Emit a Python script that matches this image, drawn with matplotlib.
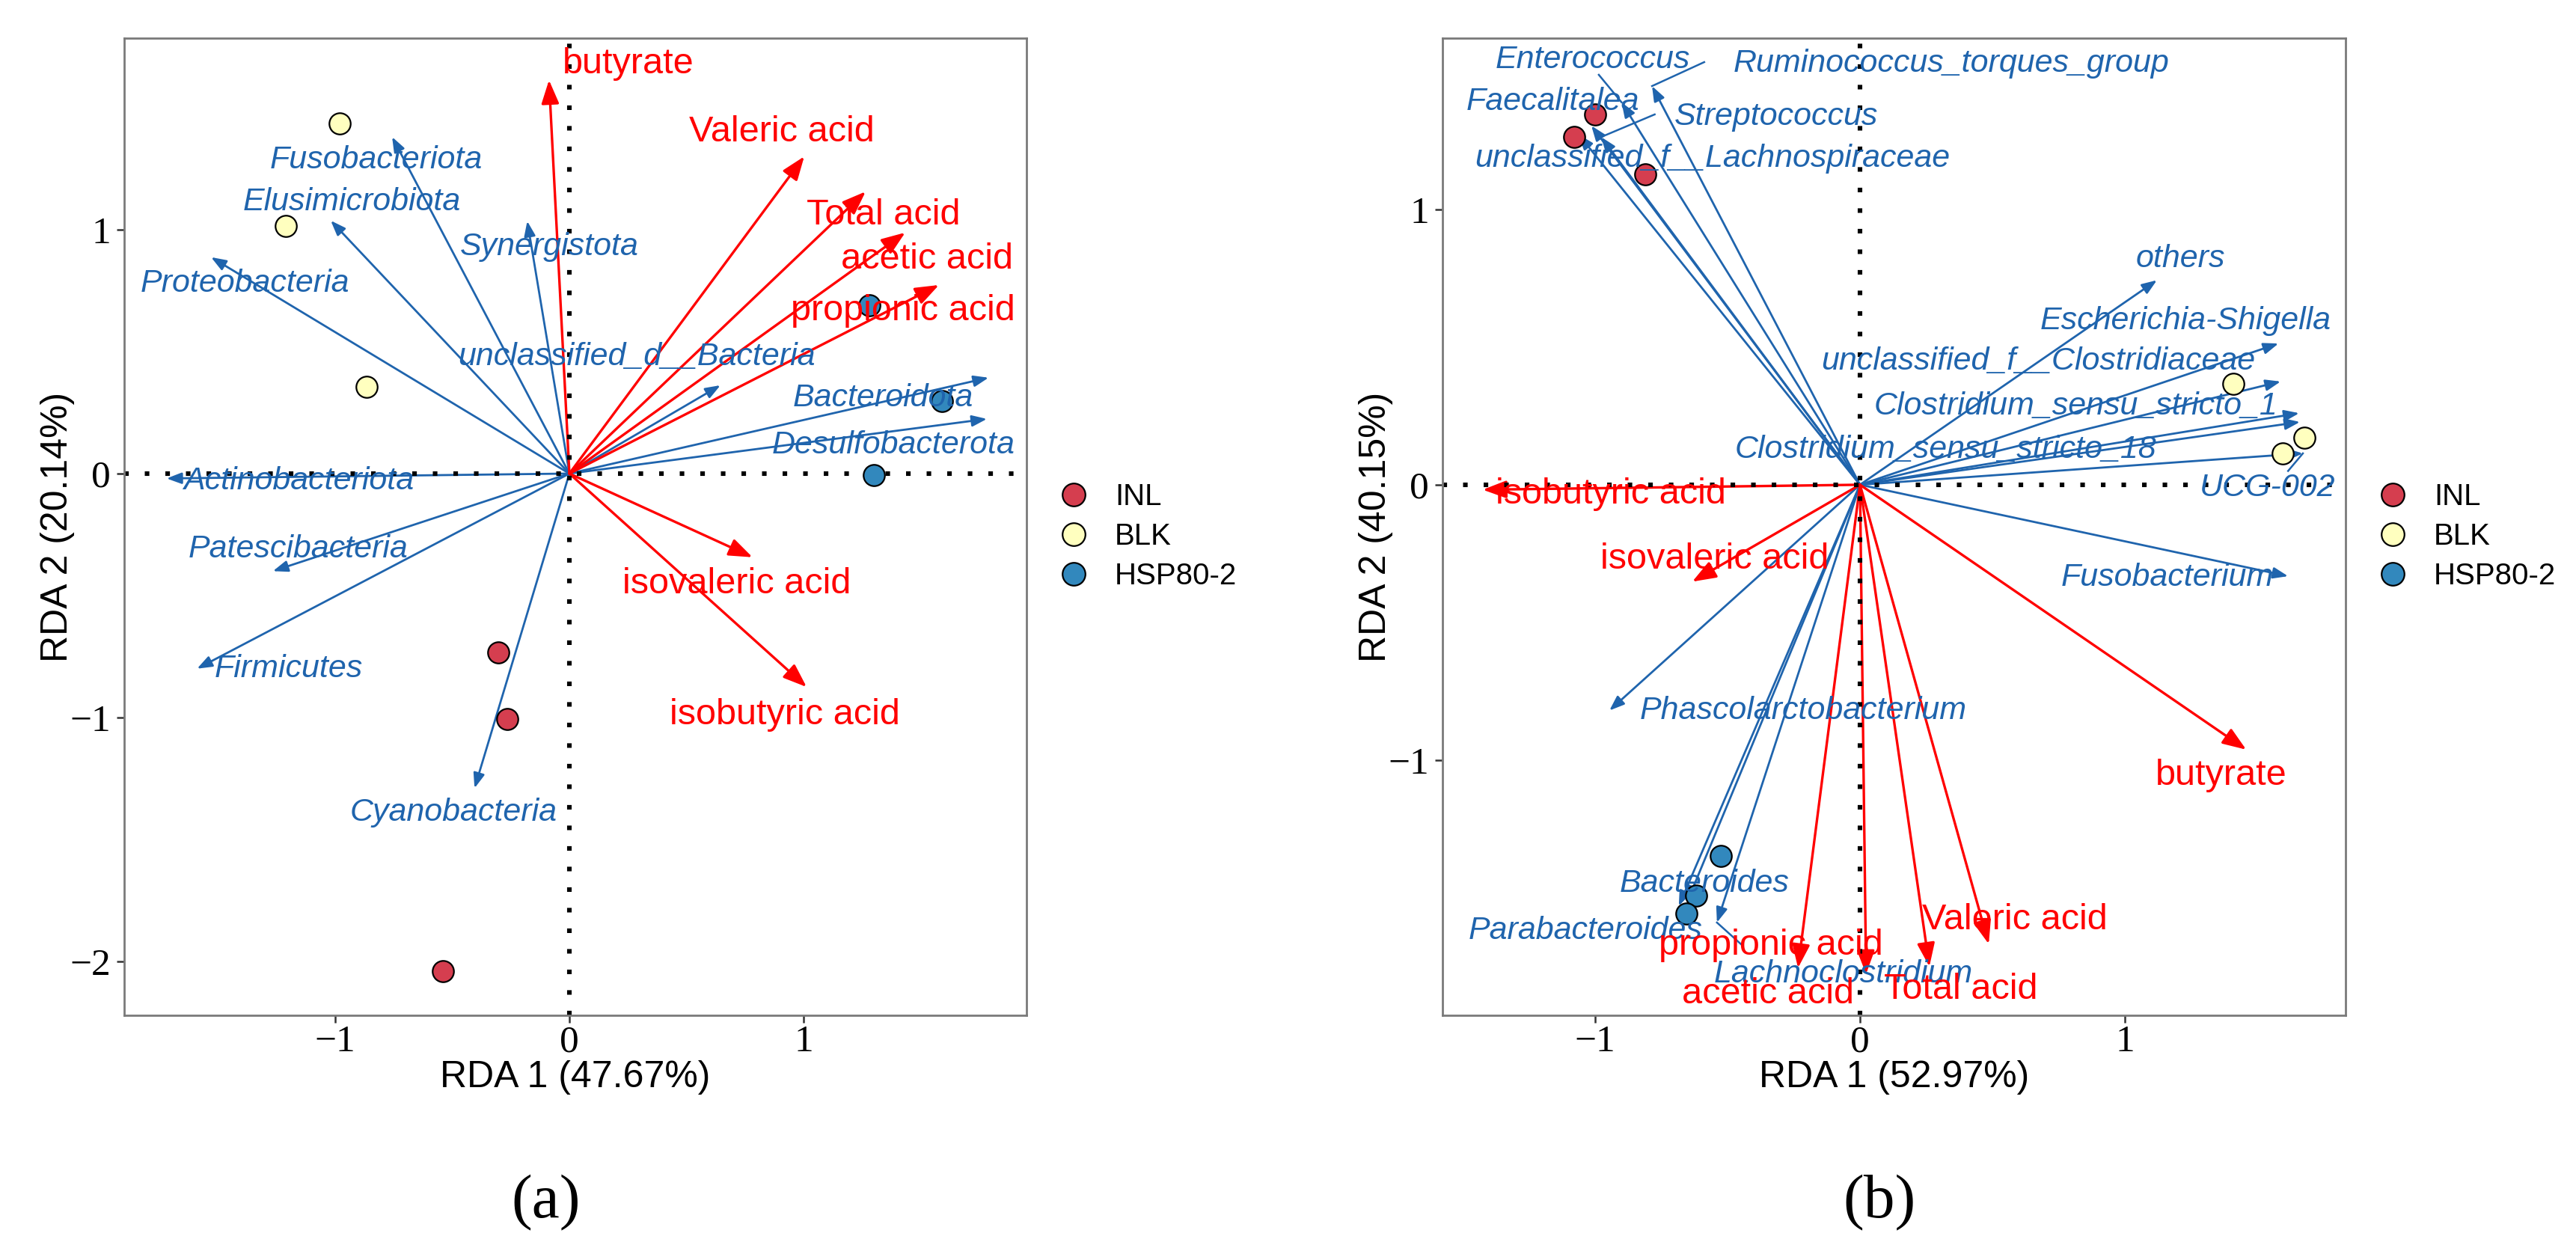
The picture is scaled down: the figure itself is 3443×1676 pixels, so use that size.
import matplotlib
matplotlib.use('Agg')
import matplotlib.pyplot as plt
from matplotlib.patches import FancyArrowPatch
from matplotlib.lines import Line2D

# ---------------- data ----------------
groups = ['INL', 'BLK', 'HSP80-2']
group_colors = ['#D53E4F', '#FFFFBF', '#3288BD']

# Panel (a)
a_xlabel = 'RDA 1 (47.67%)'
a_ylabel = 'RDA 2 (20.14%)'
a_site_group = ['INL', 'INL', 'INL', 'BLK', 'BLK', 'BLK', 'HSP80-2', 'HSP80-2', 'HSP80-2']
a_site_x = [-0.305, -0.265, -0.54, -0.98, -1.21, -0.865, 1.28, 1.59, 1.30]
a_site_y = [-0.734, -1.007, -2.04, 1.436, 1.016, 0.357, 0.69, 0.297, -0.005]

a_species = ['Fusobacteriota', 'Elusimicrobiota', 'Synergistota', 'Proteobacteria',
             'unclassified_d__Bacteria', 'Bacteroidota', 'Desulfobacterota',
             'Actinobacteriota', 'Patescibacteria', 'Firmicutes', 'Cyanobacteria']
a_species_x = [-0.757, -1.019, -0.18, -1.53, 0.645, 1.79, 1.783, -1.72, -1.266, -1.59, -0.405]
a_species_y = [1.38, 1.037, 1.035, 0.887, 0.362, 0.393, 0.224, -0.02, -0.40, -0.80, -1.29]

a_acids = ['butyrate', 'Valeric acid', 'Total acid', 'acetic acid', 'propionic acid',
           'isovaleric acid', 'isobutyric acid']
a_acid_x = [-0.087, 1.003, 1.265, 1.434, 1.578, 0.782, 1.013]
a_acid_y = [1.613, 1.30, 1.156, 0.988, 0.773, -0.343, -0.875]

# Panel (b)
b_xlabel = 'RDA 1 (52.97%)'
b_ylabel = 'RDA 2 (40.15%)'
b_site_group = ['INL', 'INL', 'INL', 'BLK', 'BLK', 'BLK', 'HSP80-2', 'HSP80-2', 'HSP80-2']
b_site_x = [-1.00, -1.08, -0.81, 1.41, 1.596, 1.678, -0.524, -0.619, -0.654]
b_site_y = [1.345, 1.264, 1.128, 0.367, 0.114, 0.171, -1.348, -1.492, -1.557]

b_species = ['Enterococcus', 'Ruminococcus_torques_group', 'Faecalitalea', 'Streptococcus',
             'unclassified_f__Lachnospiraceae', 'others', 'Escherichia-Shigella',
             'unclassified_f__Clostridiaceae', 'Clostridium_sensu_stricto_1',
             'Clostridium_sensu_stricto_18', 'UCG-002', 'Fusobacterium',
             'Phascolarctobacterium', 'Bacteroides', 'Parabacteroides', 'Lachnoclostridium']
b_species_x = [-0.90, -0.785, -1.014, -0.977, -1.062, 1.121, 1.58, 1.588, 1.658, 1.661,
               1.672, 1.616, -0.946, -0.652, -0.684, -0.54]
b_species_y = [1.389, 1.448, 1.304, 1.263, 1.272, 0.743, 0.513, 0.375, 0.26, 0.228,
               0.114, -0.332, -0.82, -1.514, -1.53, -1.59]

b_acids = ['isobutyric acid', 'isovaleric acid', 'butyrate', 'propionic acid',
           'acetic acid', 'Total acid', 'Valeric acid']
b_acid_x = [-1.424, -0.633, 1.458, -0.234, 0.023, 0.262, 0.486]
b_acid_y = [-0.018, -0.352, -0.962, -1.755, -1.777, -1.75, -1.668]

# ---------------- layout (label placement, limits) ----------------
a_species_lx = [-0.824, -0.93, -0.087, -1.385, 0.287, 1.338, 1.383, -1.157, -1.157, -1.2, -0.495]
a_species_ly = [1.285, 1.113, 0.929, 0.778, 0.479, 0.31, 0.117, -0.03, -0.31, -0.80, -1.39]
a_acid_lx = [0.25, 0.907, 1.342, 1.527, 1.425, 0.713, 0.92]
a_acid_ly = [1.68, 1.40, 1.06, 0.88, 0.667, -0.454, -0.988]

b_species_lx = [-1.01, 0.345, -1.16, -0.316, -0.556, 1.209, 1.229, 0.672, 0.816, 0.323,
                1.537, 1.16, -0.215, -0.587, -1.037, -0.062]
b_species_ly = [1.543, 1.53, 1.39, 1.336, 1.185, 0.819, 0.595, 0.448, 0.285, 0.128,
                -0.01, -0.336, -0.82, -1.448, -1.62, -1.777]
b_acid_lx = [-0.94, -0.548, 1.364, -0.336, -0.347, 0.381, 0.583]
b_acid_ly = [-0.033, -0.27, -1.057, -1.674, -1.85, -1.834, -1.58]

# repel connector segments in panel (b): (species index, end x, end y)
b_seg_idx = [0, 1, 3, 10, 15]
b_seg_x = [-0.986, -0.588, -0.775, 1.616, -0.443]
b_seg_y = [1.489, 1.535, 1.345, 0.05, -1.674]

a_xlim = (-1.901, 1.952)
a_ylim = (-2.221, 1.785)
b_xlim = (-1.576, 1.833)
b_ylim = (-1.927, 1.622)

BLUE = '#1F64AD'
RED = '#FF0000'
SANS = 'Liberation Sans'
SERIF = 'Liberation Serif'

W, H = 3443, 1676
fig = plt.figure(figsize=(W / 100, H / 100), dpi=100)


def tick_text(t):
    return '\u2212%d' % -t if t < 0 else '%d' % t


def draw_panel(rect, xlim, ylim, xticks, yticks, xlabel, ylabel,
               site_x, site_y, site_group,
               sp, sp_x, sp_y, sp_lx, sp_ly,
               ac, ac_x, ac_y, ac_lx, ac_ly,
               seg_idx=(), seg_x=(), seg_y=()):
    ax = fig.add_axes(rect)
    ax.set_xlim(*xlim)
    ax.set_ylim(*ylim)

    # dotted zero lines
    ax.axhline(0, color='black', lw=4.4, ls=(0, (1, 3.5)), zorder=2.5)
    ax.axvline(0, color='black', lw=4.4, ls=(0, (1, 3.5)), zorder=2.5)

    # species arrows
    for x, y in zip(sp_x, sp_y):
        ax.add_patch(FancyArrowPatch((0, 0), (x, y),
                                     arrowstyle='-|>,head_length=0.8,head_width=0.3',
                                     mutation_scale=15, color=BLUE, lw=2.0,
                                     shrinkA=0, shrinkB=0, zorder=2))
    for name, lx, ly in zip(sp, sp_lx, sp_ly):
        ax.text(lx, ly, name, color=BLUE, fontsize=31, style='italic',
                family=SANS, ha='center', va='center', zorder=4)
    for i, ex, ey in zip(seg_idx, seg_x, seg_y):
        ax.plot([sp_x[i], ex], [sp_y[i], ey], color=BLUE, lw=1.8, zorder=2)

    # acid arrows
    for x, y in zip(ac_x, ac_y):
        ax.add_patch(FancyArrowPatch((0, 0), (x, y),
                                     arrowstyle='-|>,head_length=0.8,head_width=0.3',
                                     mutation_scale=24, color=RED, lw=2.4,
                                     shrinkA=0, shrinkB=0, zorder=2.2))
    for name, lx, ly in zip(ac, ac_lx, ac_ly):
        ax.text(lx, ly, name, color=RED, fontsize=35, family=SANS,
                ha='center', va='center', zorder=4)

    # sites
    for g, c in zip(groups, group_colors):
        xs = [x for x, gg in zip(site_x, site_group) if gg == g]
        ys = [y for y, gg in zip(site_y, site_group) if gg == g]
        ax.scatter(xs, ys, s=420, c=c, edgecolors='black', linewidths=1.6, zorder=3)

    ax.set_xticks(xticks)
    ax.set_yticks(yticks)
    ax.set_xticklabels([tick_text(t) for t in xticks])
    ax.set_yticklabels([tick_text(t) for t in yticks])
    for lab in ax.get_xticklabels() + ax.get_yticklabels():
        lab.set_family(SERIF)
        lab.set_fontsize(37)
        lab.set_color('black')
    ax.tick_params(length=7, width=1.8, color='#333333')
    ax.tick_params(axis='x', pad=2)
    ax.tick_params(axis='y', pad=6)
    for s in ax.spines.values():
        s.set_color('#7a7a7a')
        s.set_linewidth(2.0)

    ax.set_xlabel(xlabel, family=SANS, fontsize=36)
    ax.set_ylabel(ylabel, family=SANS, fontsize=36)
    ax.xaxis.set_label_coords(0.5, -0.0636)
    ax.xaxis.label.set_va('center')
    ax.yaxis.set_label_coords(-0.0738, 0.5)
    ax.yaxis.label.set_va('center')

    handles = [Line2D([], [], ls='', marker='o', markersize=22, markerfacecolor=c,
                      markeredgecolor='black', markeredgewidth=1.6) for c in group_colors]
    ax.legend(handles, groups, loc='center left', bbox_to_anchor=(1.022, 0.49),
              frameon=False, handlelength=1.0, handletextpad=0.875,
              labelspacing=0.37, borderpad=0.4, borderaxespad=0,
              prop={'family': SANS, 'size': 29})
    return ax


ax_w = 1206 / W
ax_h = 1306 / H
ax_b = 1 - 1357 / H

draw_panel([166 / W, ax_b, ax_w, ax_h], a_xlim, a_ylim, [-1, 0, 1], [-2, -1, 0, 1],
           a_xlabel, a_ylabel, a_site_x, a_site_y, a_site_group,
           a_species, a_species_x, a_species_y, a_species_lx, a_species_ly,
           a_acids, a_acid_x, a_acid_y, a_acid_lx, a_acid_ly)

draw_panel([1928 / W, ax_b, 1207 / W, ax_h], b_xlim, b_ylim, [-1, 0, 1], [-1, 0, 1],
           b_xlabel, b_ylabel, b_site_x, b_site_y, b_site_group,
           b_species, b_species_x, b_species_y, b_species_lx, b_species_ly,
           b_acids, b_acid_x, b_acid_y, b_acid_lx, b_acid_ly,
           b_seg_idx, b_seg_x, b_seg_y)

fig.text(730 / W, 1 - 1608 / H, '(a)', ha='center', va='center', fontsize=60, family=SERIF)
fig.text(2512 / W, 1 - 1608 / H, '(b)', ha='center', va='center', fontsize=60, family=SERIF)

fig.savefig('out.png', dpi=100, facecolor='white')
